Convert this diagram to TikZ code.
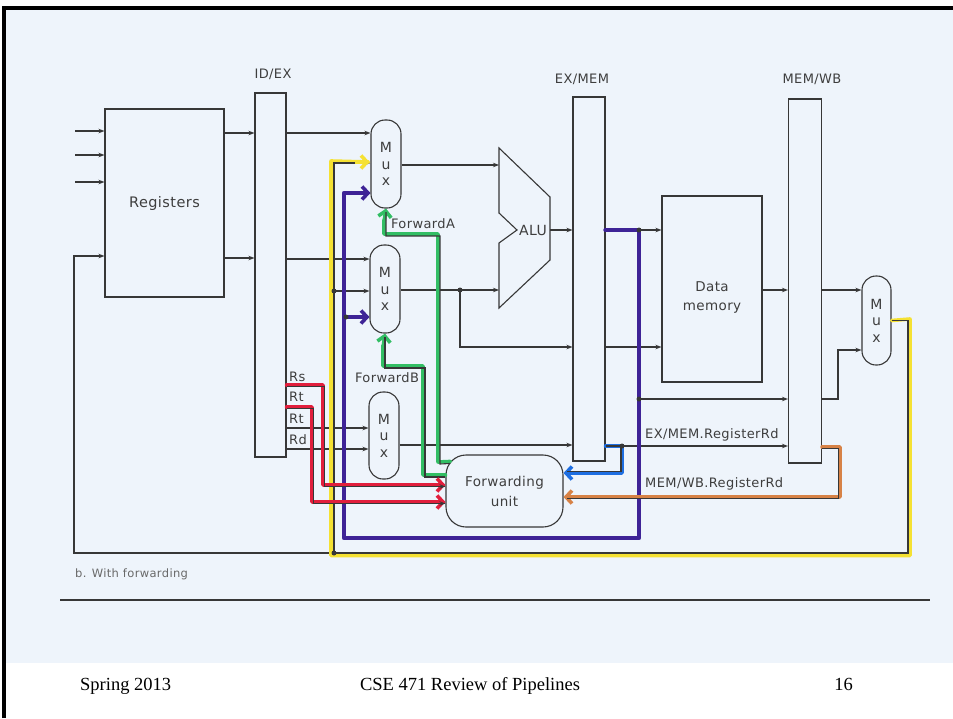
\documentclass[tikz,border=0pt]{standalone}
\usepackage{fontspec}
\setmainfont{Liberation Serif}
\newfontfamily\diag[LetterSpace=3]{DejaVu Sans}
\usetikzlibrary{arrows.meta,calc}
\definecolor{bgblue}{RGB}{238,244,251}
\definecolor{ink}{RGB}{55,55,55}
\definecolor{txt}{RGB}{62,62,62}
\definecolor{mpurple}{RGB}{62,35,150}
\definecolor{mgreen}{RGB}{50,190,100}
\definecolor{mred}{RGB}{225,30,60}
\definecolor{mblue}{RGB}{30,110,225}
\definecolor{morange}{RGB}{215,130,70}
\definecolor{myellow}{RGB}{245,225,50}
\tikzset{
 wire/.style={draw=ink, line width=1.1pt, -{Stealth[length=6pt,width=4.5pt]}},
 plain/.style={draw=ink, line width=1.1pt},
 blk/.style={draw=ink, line width=1.1pt, inner sep=0pt},
 mux/.style={blk, rounded corners=14pt, minimum width=30pt, align=center, font=\diag\fontsize{14}{16.5}\selectfont, text=txt},
 lbl/.style={font=\diag\fontsize{13}{16}\selectfont, text=txt, inner sep=0pt},
 marker/.style={line width=3.6pt, line cap=round, line join=round},
 barb/.style={-{Straight Barb[length=6pt,width=13pt]}},
 dotn/.style={circle, fill=ink, inner sep=0pt, minimum size=5pt},
 foot/.style={font=\fontsize{18.5}{22}\selectfont, inner sep=0pt, anchor=base},
}
\begin{document}
\begin{tikzpicture}[x=1pt,y=-1pt]
\useasboundingbox (0,0) rectangle (953,718);
\fill[white] (0,0) rectangle (953,718);
\fill[bgblue] (6,9) rectangle (953,663);
\draw[line width=4pt, black] (4,718) -- (4,8) -- (953,8);

% blocks
\node[blk, minimum width=119pt, minimum height=188pt, font=\diag\fontsize{14.5}{17}\selectfont, text=txt] (regs) at (164.5,203) {Registers};
\node[blk, minimum width=31pt, minimum height=364pt] (idex) at (270.5,275) {};
\node[blk, minimum width=32pt, minimum height=364pt] (exmem) at (589,279) {};
\node[blk, minimum width=33pt, minimum height=364pt] (memwb) at (805,281) {};
\node[lbl] at (273,74) {ID/EX};
\node[lbl] at (582,79) {EX/MEM};
\node[lbl] at (812,79) {MEM/WB};

\node[mux, minimum height=88pt] (muxA) at (386,164) {M\\u\\x};
\node[mux, minimum height=88pt] (muxB) at (385,289) {M\\u\\x};
\node[mux, minimum height=87pt] (muxC) at (384,435.5) {M\\u\\x};
\node[mux, minimum width=29pt, minimum height=89pt] (wbmux) at (876.5,320.5) {M\\u\\x};

\node[blk, minimum width=100pt, minimum height=186pt] (dmem) at (712,289) {};
\node[lbl, align=center, font=\diag\fontsize{13.5}{19}\selectfont] at ($(dmem.center)+(0,8)$) {Data\\memory};

\node[blk, rounded corners=20pt, minimum width=117pt, minimum height=72pt, align=center, font=\diag\fontsize{13.5}{20}\selectfont, text=txt] (fwd) at (504.5,491) {Forwarding\\unit};

% ALU
\coordinate (aluA) at (499,165);
\coordinate (aluB) at (499,290);
\coordinate (aluO) at (550,230);
\draw[plain, line join=miter] (499,148) -- (550,197) -- (550,260) -- (499,308) -- (499,243) -- (517,230) -- (499,213) -- cycle;
\node[lbl, font=\diag\fontsize{14}{16}\selectfont] (alu) at (533,230) {ALU};

% free ends
\coordinate (in1) at (75,131);
\coordinate (in2) at (75,155);
\coordinate (in3) at (75,182);

% ---- black wires
\draw[wire] (in1) -- (regs.west |- in1);
\draw[wire] (in2) -- (regs.west |- in2);
\draw[wire] (in3) -- (regs.west |- in3);
\draw[wire] (regs.east |- 0,133) -- (idex.west |- 0,133);
\draw[wire] (regs.east |- 0,258) -- (idex.west |- 0,258);
\draw[wire] (idex.east |- 0,133) -- (muxA.west |- 0,133);
\draw[wire] (idex.east |- 0,259) -- (muxB.west |- 0,259);
\draw[wire] (muxA.east |- aluA) -- (aluA);
\draw[wire] (muxB.east |- aluB) -- (aluB);
\draw[wire] (aluO) -- (exmem.west |- aluO);
\draw[wire] (460,290) -- (460,347) -- (exmem.west |- 0,347);
\draw[wire] (exmem.east |- aluO) -- (dmem.west |- aluO);
\draw[wire] (exmem.east |- 0,347) -- (dmem.west |- 0,347);
\draw[plain] (639,230) -- (639,538) -- (344,538) -- (344,193);
\draw[wire] (639,399) -- (memwb.west |- 0,399);
\draw[wire] (dmem.east |- 0,290) -- (memwb.west |- 0,290);
\draw[wire] (memwb.east |- 0,290) -- (wbmux.west |- 0,290);
\draw[wire] (memwb.east |- 0,399) -- (838,399) -- (838,350) -- (wbmux.west |- 0,350);
\draw[wire] (wbmux.east) -- (908,320.5) -- (908,553) -- (74,553) -- (74,256) -- (regs.west |- 0,256);
\draw[wire] (334,553) -- (334,163) -- (muxA.west |- 0,163);
\draw[wire] (334,291) -- (muxB.west |- 0,291);
\draw[wire] (idex.east |- 0,428) -- (muxC.west |- 0,428);
\draw[wire] (idex.east |- 0,449) -- (muxC.west |- 0,449);
\draw[wire] (muxC.east |- 0,445) -- (exmem.west |- 0,445);
\draw[wire] (exmem.east |- 0,446) -- (memwb.west |- 0,446);

% ---- markers
% yellow
\draw[marker, myellow] (wbmux.east) -- (910,319) -- (910,555.5) -- (331,555.5) -- (331,161) -- ($(muxA.west |- 0,162)+(-2,0)$);
\draw[marker, myellow, barb] (352,162) -- ($(muxA.west |- 0,162)+(-1,0)$);
\draw[plain] (wbmux.east) -- (908,320.5) -- (908,553) -- (334,553) -- (334,163) -- (355,163);
% purple
\draw[marker, mpurple, line width=4.6pt] (exmem.east |- aluO) -- (639,230) -- (639,538) -- (344,538) -- (344,193) -- (355,193);
\draw[marker, mpurple, barb] (350,193) -- (muxA.west |- 0,193);
\draw[marker, mpurple, barb] (346,317) -- (muxB.west |- 0,317);
% green ForwardA / ForwardB
\draw[marker, mgreen] ($(fwd.north west)+(5,7)$) -- (438,462) -- (438,234) -- (384,234) -- (384,220);
\draw[marker, mgreen, barb] (384,222) -- (muxA.south);
\draw[plain] ($(fwd.north west)+(5,9)$) -- (440,464) -- (440,236) -- (386,236) -- (386,212);
\draw[marker, mgreen] (fwd.west |- 0,475) -- (423,475) -- (423,366) -- (383,366) -- (383,346);
\draw[marker, mgreen, barb] (383,348) -- (muxB.south);
\draw[plain] (fwd.west |- 0,477) -- (425,477) -- (425,368) -- (385,368) -- (385,337);
% red Rs / Rt
\draw[marker, mred] (idex.east |- 0,385) -- (323,385) -- (323,485) -- ($(fwd.west |- 0,485)+(-8,0)$);
\draw[marker, mred, barb] ($(fwd.west |- 0,485)+(-14,0)$) -- (fwd.west |- 0,485);
\draw[plain, -{Stealth[length=6pt,width=4.5pt]}] (idex.east |- 0,386.5) -- (324.5,386.5) -- (324.5,486.5) -- (fwd.west |- 0,486.5);
\draw[marker, mred] (idex.east |- 0,407) -- (312,407) -- (312,502) -- ($(fwd.west |- 0,502)+(-8,0)$);
\draw[marker, mred, barb] ($(fwd.west |- 0,502)+(-14,0)$) -- (fwd.west |- 0,502);
\draw[plain, -{Stealth[length=6pt,width=4.5pt]}] (idex.east |- 0,408.5) -- (313.5,408.5) -- (313.5,503.5) -- (fwd.west |- 0,503.5);
% blue EX/MEM.RegisterRd
\draw[marker, mblue] (exmem.east |- 0,446) -- (622,446) -- (622,473) -- ($(fwd.east |- 0,473)+(8,0)$);
\draw[marker, mblue, barb] ($(fwd.east |- 0,473)+(14,0)$) -- (fwd.east |- 0,473);
\draw[plain] (exmem.east |- 0,446) -- (621,446) -- (621,471.5) -- ($(fwd.east |- 0,471.5)+(3,0)$);
% orange MEM/WB.RegisterRd
\draw[marker, morange] (memwb.east |- 0,447) -- (840,447) -- (840,497) -- ($(fwd.east |- 0,497)+(8,0)$);
\draw[marker, morange, barb] ($(fwd.east |- 0,497)+(14,0)$) -- (fwd.east |- 0,497);
\draw[plain] (memwb.east |- 0,448.5) -- (838.5,448.5) -- (838.5,498.5) -- ($(fwd.east |- 0,498.5)+(3,0)$);

% dots
\foreach \p in {(460,290),(639,230),(639,399),(622,446),(334,291),(334,553),(346,317)}
  \node[dotn] at \p {};

% labels
\node[lbl] at (423,224) {ForwardA};
\node[lbl] at (387,378) {ForwardB};
\node[lbl, anchor=west] at (645,435) {EX/MEM.RegisterRd};
\node[lbl, anchor=west] at (645,484) {MEM/WB.RegisterRd};
\node[lbl, anchor=west] at (289,377) {Rs};
\node[lbl, anchor=west] at (289,397) {Rt};
\node[lbl, anchor=west] at (289,419) {Rt};
\node[lbl, anchor=west] at (289,440) {Rd};
\node[lbl, anchor=west, font=\diag\fontsize{11.5}{14}\selectfont, text={rgb,255:red,105;green,105;blue,105}] at (75,574) {b. With forwarding};
\draw[draw=ink, line width=1.2pt] (60,600) -- (930,600);

% footer
\node[foot, anchor=base west] at (80,690) {Spring 2013};
\node[foot] at (470,690) {CSE 471 Review of Pipelines};
\node[foot, anchor=base east] at (853,690) {16};
\end{tikzpicture}
\end{document}
